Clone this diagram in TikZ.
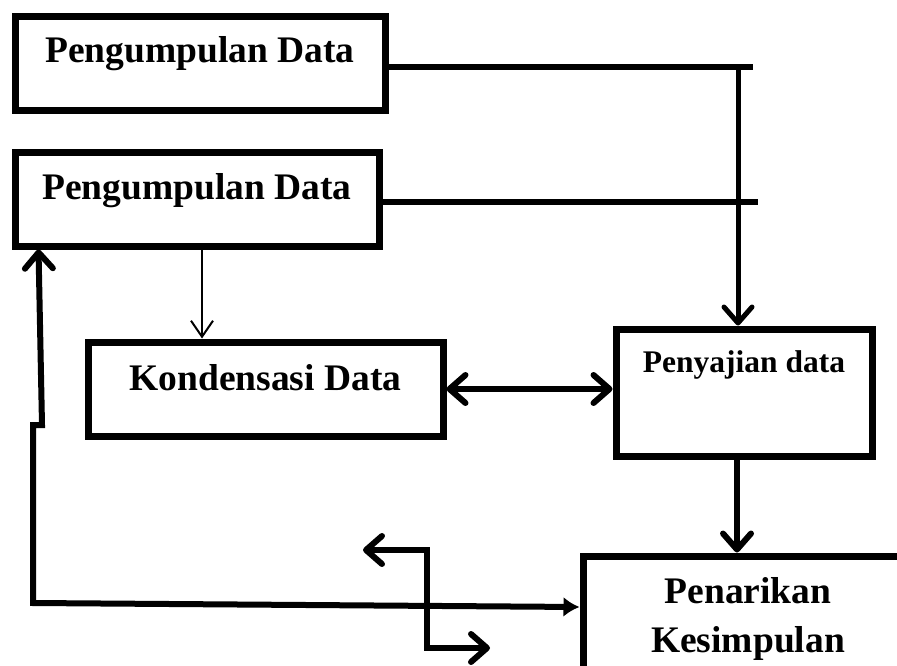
\documentclass[tikz,border=0pt]{standalone}
\usepackage{fontspec}
\setmainfont{Liberation Serif}
\usetikzlibrary{arrows.meta}

\tikzset{
  chev/.tip={Straight Barb[length=16pt,width=28pt,round]},
  thinchev/.tip={Straight Barb[length=16pt,width=22pt]},
  tri/.tip={Latex[length=16pt,width=20pt]}
}

\begin{document}
\begin{tikzpicture}[x=1pt,y=-1pt,
    box/.style={draw, line width=7pt, inner sep=0pt, font=\bfseries\fontsize{37.5}{49}\selectfont},
    flow/.style={line width=6pt}]
    \useasboundingbox (0,0) rectangle (897,666);
    \clip (0,0) rectangle (897,666);

    % Pengumpulan Data (atas)
    \node[box, minimum width=370pt, text height=46pt, text depth=48pt] (pg1) at (200,64) {Pengumpulan Data};

    % Pengumpulan Data (bawah)
    \node[box, minimum width=364pt, text height=47pt, text depth=46pt] (pg2) at (197,199.5) {Pengumpulan Data};

    % Kondensasi Data
    \node[box, minimum width=355pt, text height=48pt, text depth=46pt] (kond) at (265.5,389) {Kondensasi Data};

    % Penyajian data
    \node[box, minimum width=256pt, text height=43pt, text depth=84pt,
          font=\bfseries\fontsize{31.5}{38}\selectfont] (saji) at (744,392.5) {Penyajian data};

    % Penarikan Kesimpulan
    \node[box, minimum width=330pt, minimum height=126pt, align=center] (tarik) at (748,619) {Penarikan\\Kesimpulan};

    % garis dari kedua kotak pengumpulan
    \coordinate (ujung1) at (753,67);
    \coordinate (ujung2) at (758,202);
    \coordinate (turun) at (738,67);
    \draw[flow] ([yshift=-3pt]pg1.east) -- (ujung1);
    \draw[flow] ([yshift=-2.5pt]pg2.east) -- (ujung2);
    \draw[line width=5pt, -chev] (turun) -- (turun |- saji.north);

    % panah ke kondensasi
    \draw[line width=2pt, -thinchev] ([xshift=5pt]pg2.south) -- ([xshift=5pt]pg2.south |- kond.north);

    % kondensasi <-> penyajian
    \draw[flow, chev-chev] (kond.east) -- (kond.east -| saji.west);

    % penyajian -> penarikan
    \draw[flow, -chev] ([xshift=-7pt]saji.south) -- ([xshift=-7pt]saji.south |- tarik.north);

    % umpan balik ke pengumpulan data
    \coordinate (belokA) at (42,425);
    \coordinate (belokB) at (33,425);
    \coordinate (belokC) at (33,603);
    \draw[flow, chev-tri] ([xshift=27pt]pg2.south west) -- (belokA) -- (belokB) -- (belokC) -- ([yshift=12pt]tarik.west);

    % panah siku
    \coordinate (kiri) at (363,550);
    \coordinate (siku1) at (427,550);
    \coordinate (siku2) at (427,648);
    \coordinate (kanan) at (490,648);
    \draw[flow, chev-chev] (kiri) -- (siku1) -- (siku2) -- (kanan);
\end{tikzpicture}
\end{document}
